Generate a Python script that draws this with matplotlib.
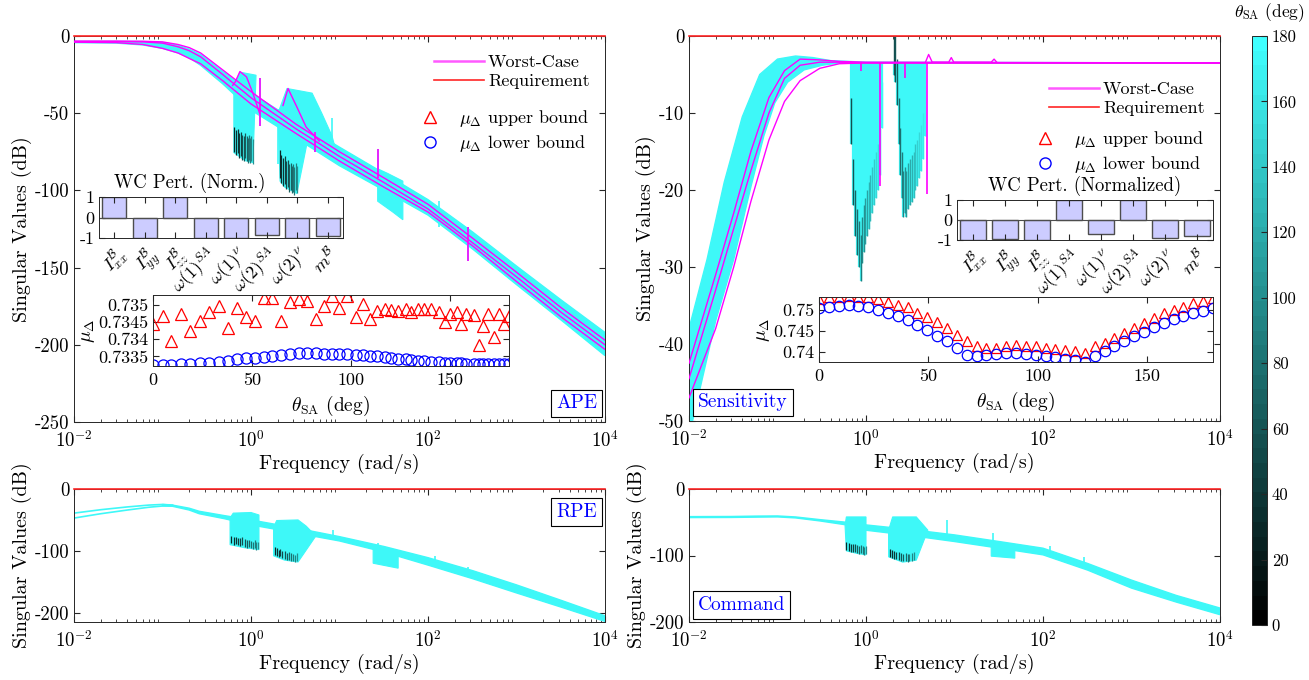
import numpy as np
import matplotlib
matplotlib.use('Agg')
import matplotlib.pyplot as plt
from matplotlib.colors import LinearSegmentedColormap, Normalize
from matplotlib.cm import ScalarMappable
from matplotlib.lines import Line2D
from matplotlib.ticker import LogLocator, NullFormatter

plt.rcParams['font.family'] = ['cmr10', 'DejaVu Serif']
plt.rcParams['mathtext.fontset'] = 'cm'
plt.rcParams['axes.unicode_minus'] = False

# ---------------- data ----------------
pert_names = [r'$I^{\mathcal{B}}_{xx}$', r'$I^{\mathcal{B}}_{yy}$', r'$I^{\mathcal{B}}_{zz}$',
              r'$\omega(1)^{SA}$', r'$\omega(1)^{\nu}$', r'$\omega(2)^{SA}$',
              r'$\omega(2)^{\nu}$', r'$m^{\mathcal{B}}$']
ape_pert = [1.0, -1.0, 1.0, -1.0, -1.0, -0.84, -1.0, -0.89]
sens_pert = [-1.0, -0.97, -1.0, 1.0, -0.72, 1.0, -0.88, -0.82]

ape_theta = [0, 5.1, 8.9, 14.3, 18.5, 23.6, 28.3, 33.2, 37.9, 42.5, 47.2, 51.4, 56.0, 60.3,
             64.9, 69.4, 73.8, 78.0, 82.6, 86.3, 90.7, 94.0, 98.1, 102.5, 106.2, 109.9, 113.4,
             117.1, 120.5, 123.9, 127.8, 130.6, 134.0, 136.9, 140.7, 144.6, 147.5, 150.0,
             153.7, 155.9, 158.4, 162.1, 164.7, 166.9, 169.4, 172.2, 174.9, 177.3, 180.0]
ape_mu_up = [0.73444, 0.73468, 0.73394, 0.73473, 0.73423, 0.73454, 0.73478, 0.73497, 0.73432,
             0.73492, 0.73464, 0.73454, 0.73521, 0.73521, 0.73454, 0.73509, 0.73518, 0.73511,
             0.73459, 0.73497, 0.73526, 0.73492, 0.73526, 0.73464, 0.73502, 0.73459, 0.73483,
             0.73488, 0.73486, 0.73483, 0.73489, 0.73480, 0.73488, 0.73488, 0.73488, 0.73478,
             0.73449, 0.73473, 0.73478, 0.73444, 0.73473, 0.73470, 0.73384, 0.73440, 0.73473,
             0.73406, 0.73473, 0.73444, 0.73468]
ape_mu_lo = [0.73325, 0.73325, 0.73326, 0.73327, 0.73328, 0.73330, 0.73332, 0.73335, 0.73338,
             0.73342, 0.73344, 0.73346, 0.73349, 0.73352, 0.73354, 0.73357, 0.73359, 0.73360,
             0.73360, 0.73358, 0.73357, 0.73357, 0.73356, 0.73355, 0.73353, 0.73352, 0.73350,
             0.73348, 0.73345, 0.73343, 0.73341, 0.73339, 0.73337, 0.73336, 0.73334, 0.73333,
             0.73332, 0.73331, 0.73330, 0.73330, 0.73329, 0.73328, 0.73328, 0.73328, 0.73327,
             0.73327, 0.73328, 0.73328, 0.73329]

sens_theta = [0, 4.5, 9, 13.5, 18, 22.5, 27, 31.5, 36, 40.5, 45, 49.5, 54, 58.5, 63, 67.5, 72,
              76.5, 81, 85.5, 90, 94.5, 99, 103.5, 108, 112.5, 117, 121.5, 126, 130.5, 135,
              139.5, 144, 148.5, 153, 157.5, 162, 166.5, 171, 175.5, 180]
sens_mu_up = [0.7526, 0.7530, 0.7532, 0.7534, 0.7532, 0.7530, 0.7526, 0.7520, 0.7512, 0.7508,
              0.7492, 0.7484, 0.7472, 0.7456, 0.7441, 0.7425, 0.7413, 0.7409, 0.7409, 0.7413,
              0.7417, 0.7414, 0.7413, 0.7410, 0.7406, 0.7405, 0.7402, 0.7397, 0.7413, 0.7421,
              0.7433, 0.7444, 0.7456, 0.7468, 0.7480, 0.7492, 0.7500, 0.7508, 0.7516, 0.7522,
              0.7528]
sens_mu_lo = [0.7504, 0.7508, 0.7510, 0.7512, 0.7510, 0.7508, 0.7500, 0.7492, 0.7486, 0.7476,
              0.7464, 0.7452, 0.7438, 0.7425, 0.7409, 0.7393, 0.7391, 0.7393, 0.7395, 0.7397,
              0.7397, 0.7395, 0.7393, 0.7391, 0.7387, 0.7384, 0.7381, 0.7377, 0.7391, 0.7403,
              0.7413, 0.7425, 0.7437, 0.7448, 0.7460, 0.7470, 0.7478, 0.7486, 0.7492, 0.7498,
              0.7504]

# APE singular values (rad/s, dB)
ape_f = [0.01, 0.03, 0.06, 0.1, 0.15, 0.2, 0.27, 0.48, 1.0, 3.2, 10, 32, 100, 320, 1000, 3200, 10000]
ape_hi = [-3.5, -3.5, -3.6, -4.2, -6, -8.5, -12, -23, -37, -55, -72, -89, -106, -127, -149, -171, -192]
ape_lo = [-4.3, -4.6, -5.8, -8, -11, -14, -19, -31, -48, -66, -84, -100, -116, -138, -161, -184, -207]
ape_wc1 = [-3.3, -3.3, -3.4, -3.8, -5.5, -7.5, -11, -22, -36, -57, -75, -92, -109, -131, -153, -176, -197]
ape_wc2 = [-3.6, -3.6, -3.8, -4.6, -7, -9.5, -13.5, -25, -40, -60, -78, -95, -112, -134, -156, -179, -200]
ape_wc3 = [-4.0, -4.3, -5.5, -8, -11, -14.5, -18, -29, -44, -63, -81, -98, -114, -136, -159, -182, -203]
ape_res1_f = [0.62, 0.66, 0.75, 0.89, 1.05, 1.25]
ape_res1_db = [-32, -30, -23, -26.5, -37, -50]
ape_res2_f = [2.3, 2.62, 3.3, 4.2, 5.9]
ape_res2_db = [-45, -34, -46, -59, -68]
ape_c1_f = [0.64, 0.75, 1.14, 1.05, 0.86, 0.64]
ape_c1_db = [-32.6, -23.4, -25.4, -82, -80.7, -75.5]
ape_c1_sf = [0.65, 0.68, 0.71, 0.74, 0.77, 0.80, 0.83, 0.86, 0.89, 0.92, 0.95, 0.98, 1.01, 1.04]
ape_c1_sb = [-75, -77, -76, -79, -78, -80, -81, -79, -81, -82, -80, -82, -81, -83]
ape_c2_f = [2.02, 2.55, 4.9, 6.3, 8.2, 9.1, 4.6, 3.3, 2.42, 2.13]
ape_c2_db = [-50, -34, -37, -50, -64.5, -74, -61, -102, -98, -94]
ape_c2_sf = [2.1, 2.2, 2.3, 2.4, 2.5, 2.6, 2.7, 2.8, 2.9, 3.0, 3.1, 3.2, 3.3]
ape_c2_sb = [-92, -95, -97, -96, -99, -98, -101, -100, -102, -101, -103, -100, -102]
ape_c3_f = [27, 35, 52, 52, 40, 27]
ape_c3_db = [-86, -89, -94, -119, -114, -107]
ape_spk_f = [1.26, 2.0, 5.3, 8.2, 27.5, 132, 283]
ape_spk_top = [-27, -47, -62, -53, -73, -107, -124]
ape_spk_bot = [-58, -83, -75, -81, -92, -124, -146]

# Sensitivity
sens_hi_f = [0.01, 0.016, 0.025, 0.04, 0.063, 0.1, 0.16, 0.25, 0.4, 1.0, 10000]
sens_hi = [-38, -29, -19, -10.5, -5, -3.0, -2.6, -2.8, -3.2, -3.4, -3.5]
sens_lo_f = [0.01, 0.02, 0.032, 0.05, 0.07, 0.093, 0.13, 0.2, 0.32, 0.5, 1.0, 10000]
sens_lo = [-52, -37, -29, -19.6, -13, -8.7, -6, -4.4, -3.8, -3.5, -3.5, -3.5]
sens_wc_f = [0.01, 0.02, 0.032, 0.05, 0.08, 0.12, 0.18, 0.3, 0.5, 1.0, 10000]
sens_wc1 = [-42.5, -31, -23, -15, -8, -4.5, -3.0, -3.1, -3.3, -3.4, -3.5]
sens_wc2 = [-44.5, -33, -25, -17.5, -10, -5.5, -3.8, -3.4, -3.4, -3.5, -3.5]
sens_wc3 = [-47, -38, -30, -21.5, -13.5, -8.5, -5.8, -4.2, -3.6, -3.5, -3.5]
sens_c1_sf = [0.68, 0.72, 0.76, 0.80, 0.84, 0.87, 0.90, 0.94, 0.98, 1.02, 1.07, 1.12, 1.18,
              1.24, 1.30, 1.37, 1.45, 1.52]
sens_c1_sb = [-14, -22, -26, -28.5, -30, -31.8, -29.5, -28, -27, -26, -25, -24, -23, -22, -21,
              -20, -18, -12]
sens_c2_sf = [2.05, 2.15, 2.25, 2.35, 2.45, 2.55, 2.65, 2.75, 2.85, 3.0, 3.15, 3.3, 3.45, 3.6,
              3.8, 4.0, 4.2, 4.45, 4.7]
sens_c2_sb = [-5, -6, -9, -14, -18, -21, -23.5, -23, -23.5, -22.5, -22, -21.5, -21, -20, -19.5,
              -18.5, -17.5, -16, -13]
sens_spk_f = [0.88, 1.44, 2.75, 4.95]
sens_spk_bot = [-4.5, -19.5, -5.5, -20.5]
sens_bump_f = [4.7, 5.1, 5.6, 8.6, 9.2, 9.8, 26, 28, 30]
sens_bump_db = [-3.4, -2.4, -3.4, -3.4, -2.8, -3.4, -3.4, -3.0, -3.4]

# RPE
rpe_low_f = [0.01, 0.02, 0.04, 0.07, 0.1, 0.13]
rpe_low1 = [-39, -33.5, -29, -26, -25, -26]
rpe_low2 = [-47, -40, -34, -29.5, -27.5, -27.5]
rpe_f = [0.1, 0.13, 0.2, 0.26, 0.5, 1, 3.2, 10, 32, 100, 320, 1000, 3200, 10000]
rpe_hi = [-25, -26, -31, -36, -43, -50, -63, -77, -93, -111, -132, -155, -180, -205]
rpe_lo = [-27, -28, -34, -40, -48, -58, -71, -84, -102, -123, -145, -168, -191, -214]
rpe_c1_f = [0.58, 0.63, 1.0, 1.23, 1.23, 0.85, 0.58]
rpe_c1_db = [-47, -39, -38, -42, -98, -95, -90]
rpe_c1_sf = [0.6, 0.64, 0.68, 0.72, 0.76, 0.8, 0.85, 0.9, 0.95, 1.0, 1.05, 1.1, 1.15, 1.2]
rpe_c1_sb = [-88, -90, -89, -91, -92, -90, -93, -95, -94, -96, -97, -95, -98, -97]
rpe_c2_f = [1.8, 1.95, 3.4, 4.2, 5.4, 3.4, 2.4, 1.8]
rpe_c2_db = [-62, -51, -50, -60, -76, -118, -115, -108]
rpe_c2_sf = [1.85, 1.95, 2.05, 2.15, 2.25, 2.4, 2.55, 2.7, 2.85, 3.0, 3.15, 3.3]
rpe_c2_sb = [-106, -108, -110, -109, -112, -113, -115, -114, -116, -117, -118, -116]
rpe_c3_f = [24, 46, 46, 24]
rpe_c3_db = [-98, -103, -128, -120]
rpe_spk_f = [8.5, 27, 120, 280]
rpe_spk_top = [-66, -88, -108, -126]
rpe_spk_bot = [-82, -100, -125, -142]

# Command
cmd_f = [0.01, 0.03, 0.06, 0.1, 0.16, 0.3, 0.6, 1, 3.2, 10, 32, 100, 320, 1000, 3200, 10000]
cmd_hi = [-41.5, -41.3, -40.7, -40.5, -42, -46, -50, -54, -61, -69, -79, -89, -112, -137, -160, -179]
cmd_lo = [-43, -42.8, -42.3, -42, -43.5, -48, -54, -62, -70, -79, -89, -99, -122, -149, -170, -189]
cmd_c1_f = [0.58, 0.6, 1.0, 1.0, 0.8, 0.6]
cmd_c1_db = [-55, -42, -42, -99, -97, -93]
cmd_c1_sf = [0.6, 0.64, 0.68, 0.72, 0.76, 0.8, 0.84, 0.88, 0.92, 0.96, 0.99]
cmd_c1_sb = [-92, -93, -94, -95, -94, -96, -97, -96, -98, -99, -98]
cmd_c2_f = [1.8, 2.0, 3.7, 5.0, 3.7, 2.6, 1.8]
cmd_c2_db = [-62, -42, -42, -62, -107, -110, -102]
cmd_c2_sf = [1.85, 1.95, 2.05, 2.2, 2.35, 2.5, 2.65, 2.8, 2.95, 3.1, 3.3, 3.5]
cmd_c2_sb = [-102, -104, -105, -106, -107, -108, -109, -108, -110, -109, -108, -107]
cmd_c3_f = [26, 48, 48, 26]
cmd_c3_db = [-80, -84, -104, -101]
cmd_spk_f = [8.2, 27, 120, 290]
cmd_spk_top = [-47, -66, -85, -103]
cmd_spk_bot = [-68, -82, -97, -115]

# ---------------- style ----------------
W, H = 1309, 680
cmap = LinearSegmentedColormap.from_list('sa', [(0, 0, 0), (0.25, 1.0, 1.0)], N=40)
CYAN = cmap(0.97)
MAG = (1.0, 0.0, 1.0)
RED = (1.0, 0.15, 0.15)
AXC = '0.15'


def px(l, t, r, b):
    return [l / W, 1 - b / H, (r - l) / W, (b - t) / H]


def style_axes(ax, fs=12, pad=3.5):
    for s in ax.spines.values():
        s.set_color(AXC)
        s.set_linewidth(0.7)
    ax.tick_params(which='both', direction='in', top=True, right=True, colors=AXC,
                   labelcolor='k', labelsize=fs)
    ax.tick_params(which='major', length=4)
    ax.tick_params(which='minor', length=2)
    ax.tick_params(axis='x', pad=pad)


def freq_axes(ax, ylim, yticks):
    ax.set_xscale('log')
    ax.set_xlim(1e-2, 1e4)
    ax.set_ylim(*ylim)
    ax.set_xticks([1e-2, 1e0, 1e2, 1e4])
    ax.set_xticklabels([r'$10^{-2}$', r'$10^{0}$', r'$10^{2}$', r'$10^{4}$'])
    ax.xaxis.set_minor_locator(LogLocator(base=10, subs=np.arange(2, 10), numticks=20))
    ax.xaxis.set_minor_formatter(NullFormatter())
    ax.set_yticks(yticks)
    ax.set_yticklabels(['%d' % v for v in yticks])
    style_axes(ax, 13.5, pad=6)
    ax.set_xlabel('Frequency (rad/s)', fontsize=14.5, labelpad=2)
    ax.set_ylabel('Singular Values (dB)', fontsize=14.5, labelpad=2)
    ax.axhline(0, color=RED, lw=1.2, zorder=6, clip_on=False)


def band(ax, f1, y1, f2, y2):
    xs = np.r_[np.array(f1, float), np.array(f2, float)[::-1]]
    ys = np.r_[np.array(y1, float), np.array(y2, float)[::-1]]
    ax.fill(xs, ys, color=CYAN, ec=CYAN, lw=1.0, zorder=2)


def curtain(ax, pf, pdb, sf, sb, depth):
    ax.fill(pf, pdb, color=CYAN, ec=CYAN, lw=0.8, zorder=2)
    sb = np.array(sb, float)
    cols = cmap(np.linspace(0.15, 0.55, len(sf)))
    ax.vlines(sf, sb, sb + depth, colors=cols, lw=0.9, zorder=3)


def spikes(ax, f, top, bot, color=CYAN):
    ax.vlines(f, bot, top, colors=[color], lw=1.2, zorder=4)


def tag(ax, text, x, y, ha):
    ax.text(x, y, text, transform=ax.transAxes, ha=ha, va='bottom', color='b', fontsize=14,
            zorder=10, bbox=dict(boxstyle='square,pad=0.25', fc='w', ec='k', lw=0.8))


fig = plt.figure(figsize=(W / 100, H / 100), dpi=100)

# ---------------- APE ----------------
ax1 = fig.add_axes(px(74, 36, 605, 422))
band(ax1, ape_f, ape_hi, ape_f, ape_lo)
curtain(ax1, ape_c1_f, ape_c1_db, ape_c1_sf, ape_c1_sb, 16)
curtain(ax1, ape_c2_f, ape_c2_db, ape_c2_sf, ape_c2_sb, 18)
ax1.fill(ape_c3_f, ape_c3_db, color=CYAN, ec=CYAN, lw=0.8, zorder=2)
spikes(ax1, ape_spk_f, ape_spk_top, ape_spk_bot)
for wc in (ape_wc1, ape_wc2, ape_wc3):
    ax1.plot(ape_f, wc, color=MAG, lw=1.0, zorder=5)
ax1.plot(ape_res1_f, ape_res1_db, color=MAG, lw=1.0, zorder=5)
ax1.plot(ape_res2_f, ape_res2_db, color=MAG, lw=1.0, zorder=5)
spikes(ax1, ape_spk_f[::2], ape_spk_top[::2], ape_spk_bot[::2], MAG)
freq_axes(ax1, (-250, 0), [-250, -200, -150, -100, -50, 0])
tag(ax1, 'APE', 0.985, 0.025, 'right')

# ---------------- Sensitivity ----------------
ax2 = fig.add_axes(px(689, 36, 1220, 421))
band(ax2, sens_hi_f, sens_hi, sens_lo_f, sens_lo)
cols1 = cmap(np.linspace(0.3, 0.95, len(sens_c1_sf)))
ax2.vlines(sens_c1_sf, sens_c1_sb, -3.4, colors=CYAN, lw=1.6, zorder=2)
ax2.vlines(sens_c1_sf, sens_c1_sb, np.array(sens_c1_sb) + 6, colors=cols1, lw=1.0, zorder=3)
cols2 = cmap(np.linspace(0.3, 0.95, len(sens_c2_sf)))
ax2.vlines(sens_c2_sf, sens_c2_sb, -3.4, colors=CYAN, lw=1.6, zorder=2)
ax2.vlines(sens_c2_sf, sens_c2_sb, np.array(sens_c2_sb) + 6, colors=cols2, lw=1.0, zorder=3)
for wc in (sens_wc1, sens_wc2, sens_wc3):
    ax2.plot(sens_wc_f, wc, color=MAG, lw=1.0, zorder=5)
ax2.vlines(sens_spk_f, sens_spk_bot, -3.4, colors=[MAG], lw=1.2, zorder=5)
ax2.plot(sens_bump_f, sens_bump_db, color=MAG, lw=1.0, zorder=5)
freq_axes(ax2, (-50, 0), [-50, -40, -30, -20, -10, 0])
tag(ax2, 'Sensitivity', 0.017, 0.025, 'left')

# ---------------- RPE ----------------
ax3 = fig.add_axes(px(74, 489, 605, 622))
ax3.plot(rpe_low_f, rpe_low1, color=CYAN, lw=1.2, zorder=2)
ax3.plot(rpe_low_f, rpe_low2, color=CYAN, lw=1.2, zorder=2)
band(ax3, rpe_f, rpe_hi, rpe_f, rpe_lo)
curtain(ax3, rpe_c1_f, rpe_c1_db, rpe_c1_sf, rpe_c1_sb, 12)
curtain(ax3, rpe_c2_f, rpe_c2_db, rpe_c2_sf, rpe_c2_sb, 12)
ax3.fill(rpe_c3_f, rpe_c3_db, color=CYAN, ec=CYAN, lw=0.8, zorder=2)
spikes(ax3, rpe_spk_f, rpe_spk_top, rpe_spk_bot)
freq_axes(ax3, (-215, 0), [-200, -100, 0])
tag(ax3, 'RPE', 0.985, 0.76, 'right')

# ---------------- Command ----------------
ax4 = fig.add_axes(px(689, 489, 1220, 622))
band(ax4, cmd_f, cmd_hi, cmd_f, cmd_lo)
curtain(ax4, cmd_c1_f, cmd_c1_db, cmd_c1_sf, cmd_c1_sb, 12)
curtain(ax4, cmd_c2_f, cmd_c2_db, cmd_c2_sf, cmd_c2_sb, 12)
ax4.fill(cmd_c3_f, cmd_c3_db, color=CYAN, ec=CYAN, lw=0.8, zorder=2)
spikes(ax4, cmd_spk_f, cmd_spk_top, cmd_spk_bot)
freq_axes(ax4, (-200, 0), [-200, -100, 0])
tag(ax4, 'Command', 0.017, 0.06, 'left')

# ---------------- legends ----------------
line_h = [Line2D([], [], color=(1, 0.35, 1), lw=1.8), Line2D([], [], color=RED, lw=1.2)]
mark_h = [Line2D([], [], ls='none', marker='^', mfc='none', mec='r', ms=8),
          Line2D([], [], ls='none', marker='o', mfc='none', mec='b', ms=8)]
mu_labels = [r'$\mu_\Delta$ upper bound', r'$\mu_\Delta$ lower bound']
for ax, y1, y2 in ((ax1, 0.985, 0.845), (ax2, 0.915, 0.79)):
    lg = ax.legend(line_h, ['Worst-Case', 'Requirement'], loc='upper right',
                   bbox_to_anchor=(0.995, y1), frameon=False, fontsize=13,
                   handlelength=2.8, handletextpad=0.2, labelspacing=0.2, borderpad=0.2)
    ax.add_artist(lg)
    ax.legend(mark_h, mu_labels, loc='upper right', bbox_to_anchor=(0.995, y2), frameon=False,
              fontsize=13, handlelength=1.2, handletextpad=1.0, labelspacing=0.2, borderpad=0.2)

# ---------------- inset bar charts ----------------
def pert_bars(l, t, r, b, vals, title, title_x):
    ax = fig.add_axes(px(l, t, r, b))
    ax.bar(range(1, 9), vals, width=0.8, color=(0.8, 0.8, 1.0), edgecolor='0.3', lw=1.0)
    ax.axhline(0, color='0.3', lw=0.8)
    ax.set_xlim(0.5, 8.5)
    ax.set_ylim(-1, 1)
    ax.set_yticks([-1, 0, 1])
    ax.set_yticklabels(['-1', '0', '1'])
    ax.set_xticks(range(1, 9))
    ax.set_xticklabels(pert_names, rotation=45, ha='right', rotation_mode='anchor')
    style_axes(ax, 13)
    fig.text(title_x / W, 1 - (t - 4) / H, title, ha='center', va='bottom', fontsize=13.5)
    return ax


pert_bars(99, 197, 343, 238, ape_pert, 'WC Pert. (Norm.)', 190)
pert_bars(957, 200, 1213, 240, sens_pert, 'WC Pert. (Normalized)', 1085)

# ---------------- inset mu plots ----------------
def mu_inset(rect, th, up, lo, ylim, yticks, ylabs, ms):
    ax = fig.add_axes(rect)
    ax.plot(th, up, ls='none', marker='^', mfc='none', mec='r', ms=ms, mew=0.9)
    ax.plot(th, lo, ls='none', marker='o', mfc='none', mec='b', ms=ms, mew=0.9)
    ax.set_xlim(0, 180)
    ax.set_ylim(*ylim)
    ax.set_xticks([0, 50, 100, 150])
    ax.set_yticks(yticks)
    ax.set_yticklabels(ylabs)
    style_axes(ax, 13, pad=5)
    ax.set_xlabel(r'$\theta_{\mathrm{SA}}$ (deg)', fontsize=14, labelpad=4)
    ax.set_ylabel(r'$\mu_\Delta$', fontsize=14, labelpad=1)
    return ax


mu_inset(px(153, 295, 509, 366), ape_theta, ape_mu_up, ape_mu_lo, (0.73322, 0.73529),
         [0.7335, 0.734, 0.7345, 0.735], ['0.7335', '0.734', '0.7345', '0.735'], 8)
mu_inset(px(819, 297, 1213, 362), sens_theta, sens_mu_up, sens_mu_lo, (0.7376, 0.7531),
         [0.74, 0.745, 0.75], ['0.74', '0.745', '0.75'], 7.5)

# ---------------- colorbar ----------------
cax = fig.add_axes(px(1252, 36, 1267, 625))
sm = ScalarMappable(norm=Normalize(0, 180), cmap=cmap)
cb = fig.colorbar(sm, cax=cax, ticks=range(0, 181, 20))
cb.ax.tick_params(labelsize=12, direction='in', length=4, colors=AXC, labelcolor='k')
cb.outline.set_linewidth(0.7)
cb.outline.set_edgecolor(AXC)
fig.text(1305 / W, 0.982, r'$\theta_{\mathrm{SA}}$ (deg)', ha='right', va='center', fontsize=12.5)

fig.savefig('out.png', dpi=100)
